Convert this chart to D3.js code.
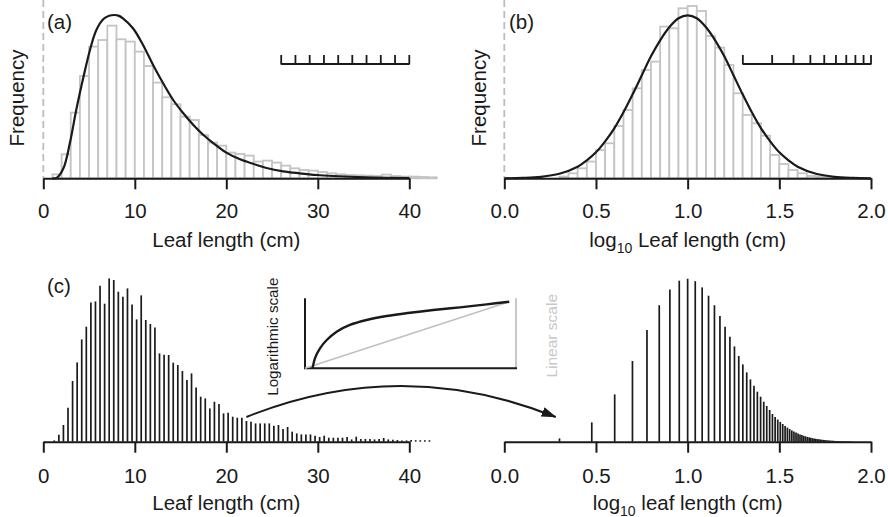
<!DOCTYPE html>
<html>
<head>
<meta charset="utf-8">
<script src="https://cdn.jsdelivr.net/npm/d3@7"></script>
<style>
  body { margin: 0; background: #fff; }
  svg text { font-family: "Liberation Sans", Arial, Helvetica, sans-serif; fill: #1a1a1a; }
</style>
</head>
<body>
<div id="chart"></div>
<script>
// (a) histogram, 1 cm bins from 0 to 43
var binStartA = d3.range(0, 43);
var countsA = [0, 4, 24, 65.7, 102.3, 131.7, 138.3, 152.7, 139, 136.7,
    126.7, 112.3, 95.7, 81, 74, 61.7, 58.3, 43.3, 35.7, 32.7,
    25.7, 24.3, 22.7, 16.7, 17.7, 15.7, 12.7, 10, 8.3, 7.7,
    6.3, 5, 4, 3.3, 3, 2.7, 2.3, 3.7, 2.3, 1.7,
    1.7, 1.3, 1];
// fitted curve on (a)
var curveAX = [1, 1.5, 2.2, 2.9, 3.6, 4.4, 5.1, 5.8, 6.6, 7.2, 7.8, 8.2, 8.7, 9.8, 10.9, 12, 13.1, 14.2, 15.3,
    16.4, 17.5, 18.6, 20, 21.5, 23, 24.4, 26.2, 28, 29.9, 31.7, 35.3, 40];
var curveAY = [0, 0.7, 10, 35, 68.3, 101.7, 128.3, 148.3, 159.5, 162.6, 163.3, 162.7, 160, 150, 133.3, 113.3, 95, 78.3, 65,
    53.3, 43.3, 35, 25.7, 19, 14.3, 10.3, 7, 5, 3.3, 2.3, 1, 0.3];

// (b) histogram on log10 scale, 0.05 bins from 0.30 to 1.80
var binStartB = d3.range(6, 36).map(function(i){ return i / 20; });
var binWidthB = 0.05;
var countsB = [1.7, 5, 10, 16.7, 28.3, 35, 52.3, 68.3, 90, 108.3,
    116.7, 151.7, 150, 170, 172.3, 167.3, 142.3, 130.7, 113.3, 85,
    63.3, 55, 42.7, 23.3, 14.3, 8.3, 5, 2.3, 1.7, 1];
// fitted normal curve on (b)
var curveBX = [0, 0.1, 0.2, 0.3, 0.4, 0.45, 0.5, 0.55, 0.6, 0.65, 0.7, 0.75, 0.8, 0.85, 0.9, 0.95, 1,
    1.05, 1.1, 1.15, 1.2, 1.25, 1.3, 1.35, 1.4, 1.45, 1.5, 1.55, 1.6, 1.7, 1.8, 1.9, 2];
var curveBY = [0, 0.4, 1.5, 4.5, 11.5, 18, 26, 37, 50, 66, 84, 103, 122, 138, 151, 160, 163,
    160, 151, 138, 122, 103, 84, 66, 50, 37, 26, 18, 11.5, 4.5, 1.5, 0.4, 0];

// scale bar: equal steps, drawn linear in (a) and logged in (b)
var scaleBarValues = [20, 28.9, 37.8, 46.7, 55.6, 64.4, 73.3, 82.2, 91.1, 100];

// (c) left: counts per 0.5 cm
var lengthsC = d3.range(83).map(function(i){ return 1.2 + 0.5 * i; });
var countsC = [1.3, 7, 16.7, 34, 60.7, 79.3, 102.3, 115, 139.3, 140.3,
    156, 138, 163.3, 161.7, 150, 145, 153.3, 137.3, 122.3, 146.3,
    121.7, 117.7, 114.3, 88.3, 87, 86.7, 79, 76.7, 70.7, 61.7,
    68.3, 54.3, 45, 43.3, 33.3, 40, 37.7, 28.3, 29, 25,
    24, 24, 20.7, 20, 18.3, 18.3, 18.3, 18.3, 16, 16.7,
    12.7, 14.7, 10, 8.3, 7.3, 7.3, 7.3, 6, 4.7, 6,
    4, 4, 4, 4, 4.7, 2.3, 5, 2.7, 2.7, 2.7,
    2.3, 2.7, 3.7, 2.3, 2, 1.7, 1.3, 1.3, 1.7, 1.5,
    1.5, 1.5, 1.5];

// (c) right: whole-cm lengths on the log10 axis
var lengthsLog = d3.range(2, 81);
var countsLog = [3.3, 19.3, 47.3, 80.7, 111.7, 136.5, 152.3, 161, 163, 160.5,
    154.3, 146, 136.5, 125.7, 115, 105, 95.3, 85.7, 77.3, 69.3,
    62.3, 56, 50, 45, 40, 35.7, 31.7, 27.7, 24.7,
    22.2, 19.8, 17.7, 15.8, 14.1, 12.6, 11.3, 10.1, 9.1, 8.2,
    7.3, 6.6, 5.9, 5.3, 4.8, 4.3, 3.9, 3.5, 3.2, 2.9,
    2.6, 2.4, 2.2, 2.0, 1.8, 1.6, 1.5, 1.3, 1.2, 1.1,
    1.0, 0.9, 0.8, 0.75, 0.7, 0.6, 0.55, 0.5, 0.45, 0.4,
    0.37, 0.34, 0.3, 0.28, 0.25, 0.23, 0.21, 0.19, 0.17, 0.15];

// inset: log curve vs straight line
var insetCurveX = [0.036, 0.047, 0.071, 0.103, 0.15, 0.213, 0.292, 0.387, 0.498, 0.608, 0.735, 0.861, 0.968];
var insetCurveY = [0, 0.143, 0.286, 0.404, 0.523, 0.619, 0.69, 0.747, 0.794, 0.833, 0.871, 0.914, 0.951];
var insetLineX = [0, 0.968];
var insetLineY = [0, 0.951];

var ticksCm = [0, 10, 20, 30, 40];
var ticksLog = [0, 0.5, 1, 1.5, 2];

var black = "#1a1a1a", grey = "#c4c4c4";

var svg = d3.select("#chart").append("svg")
    .attr("width", 888)
    .attr("height", 517);

// scales
var xA = d3.scaleLinear().domain([0, 40]).range([43.3, 409.3]);
var xB = d3.scaleLinear().domain([0, 2]).range([504.3, 871]);
var yTop = d3.scaleLinear().domain([0, 165]).range([178.3, 13.3]);
var yBot = d3.scaleLinear().domain([0, 165]).range([441.7, 276.7]);

function drawAxis(x, y0, ticks, fmt, labelY){
    var g = svg.append("g")
        .attr("transform", "translate(0," + y0 + ")")
        .call(d3.axisBottom(x).tickValues(ticks).tickFormat(fmt).tickSize(11).tickSizeOuter(0));
    g.select(".domain").attr("stroke", black).attr("stroke-width", 2);
    g.selectAll(".tick line").attr("stroke", black).attr("stroke-width", 2);
    g.selectAll(".tick text")
        .attr("y", labelY)
        .attr("dy", null)
        .attr("fill", black)
        .style("font-size", "20.5px")
        .style("font-family", "'Liberation Sans', Arial, sans-serif");
    return g;
}

function dashed(x){
    svg.append("line")
        .attr("x1", x).attr("x2", x)
        .attr("y1", 0).attr("y2", yTop(0))
        .attr("stroke", "#bdbdbd")
        .attr("stroke-width", 1.8)
        .attr("stroke-dasharray", "7,4");
}

function yLabel(x, text){
    svg.append("text")
        .attr("transform", "translate(" + x + "," + 98 + ") rotate(-90)")
        .attr("text-anchor", "middle")
        .style("font-size", "20.5px")
        .text(text);
}

function panelTag(x, y, text){
    svg.append("text")
        .attr("x", x).attr("y", y)
        .style("font-size", "20.5px")
        .text(text);
}

function logTitle(x, y, rest){
    var t = svg.append("text")
        .attr("x", x).attr("y", y)
        .attr("text-anchor", "middle")
        .style("font-size", "20.5px");
    t.append("tspan").text("log");
    t.append("tspan").attr("dy", 6).style("font-size", "14px").text("10");
    t.append("tspan").attr("dy", -6).text(" " + rest);
}

// ---------- panel (a)
dashed(xA(0));
svg.append("g").selectAll("rect")
    .data(countsA)
    .enter().append("rect")
    .attr("x", function(d, i){ return xA(binStartA[i]); })
    .attr("width", function(d, i){ return xA(binStartA[i] + 1) - xA(binStartA[i]); })
    .attr("y", function(d){ return yTop(d); })
    .attr("height", function(d){ return yTop(0) - yTop(d); })
    .attr("fill", "#fff")
    .attr("stroke", grey)
    .attr("stroke-width", 1.8);

svg.append("path")
    .datum(d3.zip(curveAX, curveAY))
    .attr("fill", "none")
    .attr("stroke", black)
    .attr("stroke-width", 2.2)
    .attr("d", d3.line()
        .x(function(d){ return xA(d[0]); })
        .y(function(d){ return yTop(d[1]); })
        .curve(d3.curveCatmullRom));

drawAxis(xA, yTop(0), ticksCm, d3.format("d"), 40);
yLabel(23.5, "Frequency");
panelTag(47, 29, "(a)");
svg.append("text")
    .attr("x", xA(20)).attr("y", 247)
    .attr("text-anchor", "middle")
    .style("font-size", "20.5px")
    .text("Leaf length (cm)");

// scale bar (a), linear spacing
var barA = d3.scaleLinear().domain([20, 100]).range([xA(26), xA(40)]);
svg.append("line")
    .attr("x1", barA(20)).attr("x2", barA(100))
    .attr("y1", 64).attr("y2", 64)
    .attr("stroke", black).attr("stroke-width", 1.8);
svg.append("g").selectAll("line")
    .data(scaleBarValues)
    .enter().append("line")
    .attr("x1", function(d){ return barA(d); })
    .attr("x2", function(d){ return barA(d); })
    .attr("y1", 55).attr("y2", 64.5)
    .attr("stroke", black).attr("stroke-width", 1.8);

// ---------- panel (b)
dashed(xB(0));
svg.append("g").selectAll("rect")
    .data(countsB)
    .enter().append("rect")
    .attr("x", function(d, i){ return xB(binStartB[i]); })
    .attr("width", function(d, i){ return xB(binStartB[i] + binWidthB) - xB(binStartB[i]); })
    .attr("y", function(d){ return yTop(d); })
    .attr("height", function(d){ return yTop(0) - yTop(d); })
    .attr("fill", "#fff")
    .attr("stroke", grey)
    .attr("stroke-width", 1.8);

svg.append("path")
    .datum(d3.zip(curveBX, curveBY))
    .attr("fill", "none")
    .attr("stroke", black)
    .attr("stroke-width", 2.2)
    .attr("d", d3.line()
        .x(function(d){ return xB(d[0]); })
        .y(function(d){ return yTop(d[1]); })
        .curve(d3.curveCatmullRom));

drawAxis(xB, yTop(0), ticksLog, d3.format(".1f"), 40);
yLabel(486, "Frequency");
panelTag(509, 29, "(b)");
logTitle(xB(1), 247, "Leaf length (cm)");

// scale bar (b), same steps on log10
svg.append("line")
    .attr("x1", xB(Math.log10(20))).attr("x2", xB(Math.log10(100)))
    .attr("y1", 64).attr("y2", 64)
    .attr("stroke", black).attr("stroke-width", 1.8);
svg.append("g").selectAll("line")
    .data(scaleBarValues)
    .enter().append("line")
    .attr("x1", function(d){ return xB(Math.log10(d)); })
    .attr("x2", function(d){ return xB(Math.log10(d)); })
    .attr("y1", 55).attr("y2", 64.5)
    .attr("stroke", black).attr("stroke-width", 1.8);

// ---------- panel (c) left
svg.append("g").selectAll("line")
    .data(countsC)
    .enter().append("line")
    .attr("x1", function(d, i){ return xA(lengthsC[i]); })
    .attr("x2", function(d, i){ return xA(lengthsC[i]); })
    .attr("y1", yBot(0))
    .attr("y2", function(d){ return yBot(d); })
    .attr("stroke", black)
    .attr("stroke-width", 1.7);

drawAxis(xA, yBot(0), ticksCm, d3.format("d"), 41);
panelTag(47, 293, "(c)");
svg.append("text")
    .attr("x", xA(20)).attr("y", 509.5)
    .attr("text-anchor", "middle")
    .style("font-size", "20.5px")
    .text("Leaf length (cm)");

// ---------- panel (c) right
svg.append("g").selectAll("line")
    .data(countsLog)
    .enter().append("line")
    .attr("x1", function(d, i){ return xB(Math.log10(lengthsLog[i])); })
    .attr("x2", function(d, i){ return xB(Math.log10(lengthsLog[i])); })
    .attr("y1", yBot(0))
    .attr("y2", function(d){ return yBot(d); })
    .attr("stroke", black)
    .attr("stroke-width", 1.7);

drawAxis(xB, yBot(0), ticksLog, d3.format(".1f"), 41);
logTitle(xB(1), 509.5, "leaf length (cm)");

// ---------- inset
var xI = d3.scaleLinear().domain([0, 1]).range([305, 516]);
var yI = d3.scaleLinear().domain([0, 1]).range([368.3, 298.3]);

svg.append("line")
    .attr("x1", xI(1)).attr("x2", xI(1))
    .attr("y1", yI(1)).attr("y2", yI(0))
    .attr("stroke", "#c8c8c8").attr("stroke-width", 2);
svg.append("path")
    .attr("d", "M" + xI(0) + "," + yI(1) + "V" + yI(0) + "H" + (xI(1) + 1))
    .attr("fill", "none")
    .attr("stroke", black).attr("stroke-width", 2);

var insetLine = d3.line()
    .x(function(d){ return xI(d[0]); })
    .y(function(d){ return yI(d[1]); });
svg.append("path")
    .datum(d3.zip(insetLineX, insetLineY))
    .attr("fill", "none")
    .attr("stroke", "#c0c0c0").attr("stroke-width", 1.7)
    .attr("d", insetLine);
svg.append("path")
    .datum(d3.zip(insetCurveX, insetCurveY))
    .attr("fill", "none")
    .attr("stroke", black).attr("stroke-width", 2.4)
    .attr("d", insetLine.curve(d3.curveCatmullRom));

svg.append("text")
    .attr("transform", "translate(278,336.7) rotate(-90)")
    .attr("text-anchor", "middle")
    .style("font-size", "15.2px")
    .text("Logarithmic scale");
svg.append("text")
    .attr("transform", "translate(556.5,335.8) rotate(-90)")
    .attr("text-anchor", "middle")
    .style("font-size", "15.5px")
    .style("fill", "#c8c8c8")
    .text("Linear scale");

// ---------- arrow from the linear to the log panel
svg.append("defs").append("marker")
    .attr("id", "head")
    .attr("markerUnits", "userSpaceOnUse")
    .attr("viewBox", "0 0 15 10")
    .attr("markerWidth", 15).attr("markerHeight", 10)
    .attr("refX", 14).attr("refY", 5)
    .attr("orient", "auto")
    .append("path")
    .attr("d", "M0,0L15,5L0,10Z")
    .attr("fill", black);

var ax0 = xA(22.2), ay0 = yBot(24.7);
var ax1 = xB(0.28), ay1 = yBot(24.7);
svg.append("path")
    .attr("d", "M" + ax0 + "," + ay0 + "Q" + ((ax0 + ax1) / 2) + "," + (ay0 - 62) + " " + ax1 + "," + ay1)
    .attr("fill", "none")
    .attr("stroke", black).attr("stroke-width", 2)
    .attr("marker-end", "url(#head)");
</script>
</body>
</html>
